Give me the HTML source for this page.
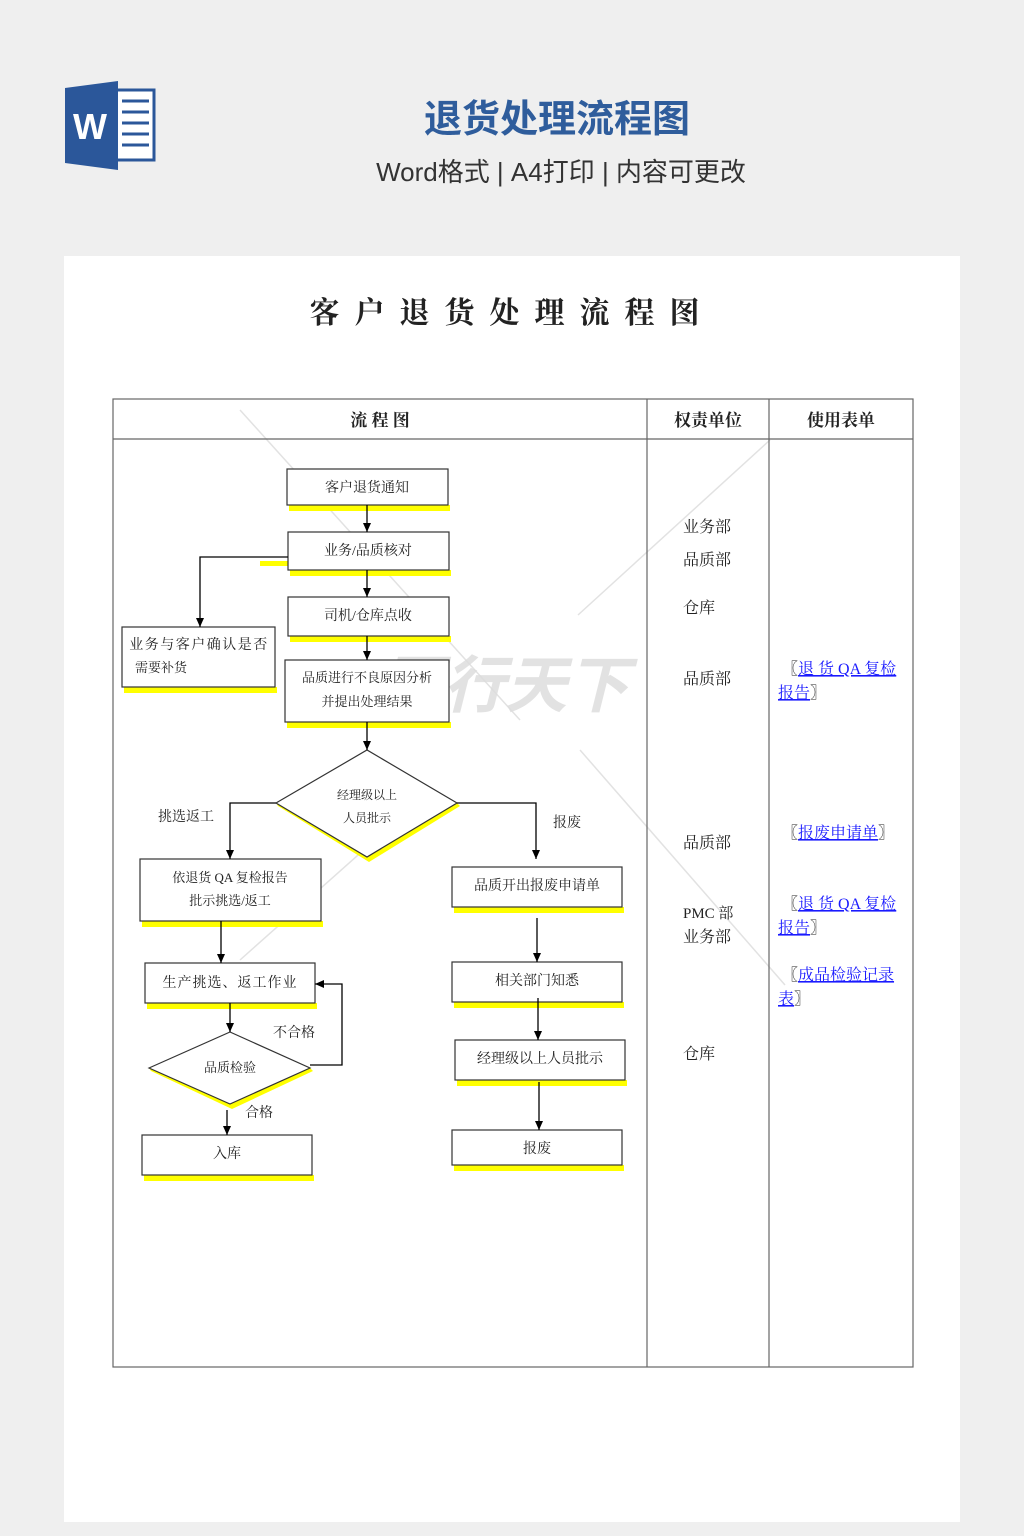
<!DOCTYPE html>
<html><head><meta charset="utf-8"><style>
html,body{margin:0;padding:0;background:#efefef;}
svg{display:block;}
.s{font-family:"Liberation Serif","Noto Serif CJK SC","Noto Sans CJK SC",serif;fill:#222;}
.h{font-family:"Liberation Sans","Noto Sans CJK SC",sans-serif;}
.lk{fill:#1a1aff;text-decoration:underline;}
</style></head><body>
<svg width="1024" height="1536" viewBox="0 0 1024 1536" xmlns="http://www.w3.org/2000/svg">
<defs><marker id="a" markerWidth="9" markerHeight="8" refX="9" refY="4" orient="auto" markerUnits="userSpaceOnUse"><path d="M0,0 L9,4 L0,8 z" fill="#000"/></marker></defs>
<rect width="1024" height="1536" fill="#efefef"/>
<!-- word icon -->
<rect x="112" y="90" width="42" height="70" fill="#fff" stroke="#2b579a" stroke-width="3"/>
<g stroke="#2b579a" stroke-width="3"><line x1="122" y1="101" x2="149" y2="101"/><line x1="122" y1="112" x2="149" y2="112"/><line x1="122" y1="123" x2="149" y2="123"/><line x1="122" y1="134" x2="149" y2="134"/><line x1="122" y1="145" x2="149" y2="145"/></g>
<path d="M65,88 L118,81 L118,170 L65,163 z" fill="#2b579a"/>
<text x="90" y="139" text-anchor="middle" class="h" font-size="36" font-weight="bold" fill="#fff">W</text>
<text x="557" y="132" text-anchor="middle" class="h" font-size="38" font-weight="bold" fill="#2f5d9c">退货处理流程图</text>
<text x="561" y="181" text-anchor="middle" class="h" font-size="26" fill="#333">Word格式 | A4打印 | 内容可更改</text>
<rect x="64" y="256" width="896" height="1266" fill="#fff"/>
<text x="512" y="323" text-anchor="middle" class="s" font-size="30" font-weight="bold" letter-spacing="15" fill="#111">客户退货处理流程图</text>
<!-- watermark -->
<g stroke="#e2e2e2" stroke-width="1.5"><line x1="240" y1="410" x2="520" y2="720"/><line x1="578" y1="615" x2="770" y2="440"/><line x1="580" y1="750" x2="785" y2="985"/><line x1="240" y1="960" x2="420" y2="800"/></g>
<text x="505" y="707" text-anchor="middle" class="h" font-size="62" font-style="italic" font-weight="bold" fill="#dcdcdc" opacity="0.8">图行天下</text>
<!-- table -->
<g fill="none" stroke="#666" stroke-width="1.2"><rect x="113" y="399" width="800" height="968"/><line x1="113" y1="439" x2="913" y2="439"/><line x1="647" y1="399" x2="647" y2="1367"/><line x1="769" y1="399" x2="769" y2="1367"/></g>
<g class="s" font-size="17" font-weight="bold" text-anchor="middle"><text x="380" y="426">流 程 图</text><text x="708" y="426">权责单位</text><text x="841" y="426">使用表单</text></g>
<!-- yellow shadows -->
<g fill="#ffff00">
<rect x="289" y="505" width="161" height="6"/><rect x="290" y="570" width="161" height="6"/><rect x="290" y="636" width="161" height="6"/>
<rect x="124" y="687" width="153" height="6"/><rect x="287" y="722" width="164" height="6"/>
<rect x="142" y="921" width="181" height="6"/><rect x="454" y="907" width="170" height="6"/>
<rect x="147" y="1003" width="170" height="6"/><rect x="454" y="1002" width="170" height="6"/>
<rect x="457" y="1080" width="170" height="6"/><rect x="144" y="1175" width="170" height="6"/><rect x="454" y="1165" width="170" height="6"/>
<path d="M278,806 L369,862 L460,806 L457,803 L367,857 L276,803 z"/>
<path d="M151,1071 L232,1109 L313,1071 L310,1068 L230,1104 L149,1068 z"/>
<rect x="260" y="561" width="28" height="5"/>
</g>
<!-- boxes -->
<g fill="#fff" stroke="#333" stroke-width="1.2">
<rect x="287" y="469" width="161" height="36"/><rect x="288" y="532" width="161" height="38"/><rect x="288" y="597" width="161" height="39"/>
<rect x="122" y="627" width="153" height="60"/><rect x="285" y="660" width="164" height="62"/>
<polygon points="276,803 367,750 457,803 367,857"/>
<rect x="140" y="859" width="181" height="62"/><rect x="452" y="867" width="170" height="40"/>
<rect x="145" y="963" width="170" height="40"/><rect x="452" y="962" width="170" height="40"/>
<polygon points="149,1068 230,1032 310,1068 230,1104"/>
<rect x="142" y="1135" width="170" height="40"/><rect x="455" y="1040" width="170" height="40"/><rect x="452" y="1130" width="170" height="35"/>
</g>
<!-- connectors -->
<g fill="none" stroke="#000" stroke-width="1.3">
<line x1="367" y1="505" x2="367" y2="532" marker-end="url(#a)"/>
<line x1="367" y1="570" x2="367" y2="597" marker-end="url(#a)"/>
<line x1="367" y1="636" x2="367" y2="660" marker-end="url(#a)"/>
<polyline points="288,557 200,557 200,627" marker-end="url(#a)"/>
<line x1="367" y1="722" x2="367" y2="750" marker-end="url(#a)"/>
<polyline points="276,803 230,803 230,859" marker-end="url(#a)"/>
<polyline points="457,803 536,803 536,859" marker-end="url(#a)"/>
<line x1="221" y1="921" x2="221" y2="963" marker-end="url(#a)"/>
<line x1="537" y1="918" x2="537" y2="962" marker-end="url(#a)"/>
<line x1="230" y1="1003" x2="230" y2="1032" marker-end="url(#a)"/>
<polyline points="310,1065 342,1065 342,984 315,984" marker-end="url(#a)"/>
<line x1="538" y1="998" x2="538" y2="1040" marker-end="url(#a)"/>
<line x1="539" y1="1082" x2="539" y2="1130" marker-end="url(#a)"/>
<line x1="227" y1="1110" x2="227" y2="1135" marker-end="url(#a)"/>
</g>
<!-- box texts -->
<g class="s" font-size="14" text-anchor="middle">
<text x="367" y="492">客户退货通知</text><text x="368" y="555">业务/品质核对</text><text x="368" y="620">司机/仓库点收</text>
<text x="199" y="649" letter-spacing="1.5">业务与客户确认是否</text><text x="161" y="672" font-size="13">需要补货</text>
<text x="367" y="682" font-size="13">品质进行不良原因分析</text><text x="367" y="706" font-size="13">并提出处理结果</text>
<text x="367" y="799" font-size="12">经理级以上</text><text x="367" y="822" font-size="12">人员批示</text>
<text x="186" y="821" font-size="14">挑选返工</text><text x="567" y="827" font-size="14">报废</text>
<text x="230" y="882" font-size="13">依退货 QA 复检报告</text><text x="230" y="905" font-size="13">批示挑选/返工</text>
<text x="537" y="890">品质开出报废申请单</text>
<text x="230" y="987" letter-spacing="1">生产挑选、返工作业</text><text x="537" y="985">相关部门知悉</text>
<text x="294" y="1037">不合格</text><text x="230" y="1072" font-size="13">品质检验</text><text x="259" y="1117">合格</text>
<text x="227" y="1158">入库</text><text x="540" y="1063">经理级以上人员批示</text><text x="537" y="1153">报废</text>
</g>
<!-- responsibility -->
<g class="s" font-size="16">
<text x="683" y="532">业务部</text><text x="683" y="565">品质部</text><text x="683" y="613">仓库</text><text x="683" y="684">品质部</text>
<text x="683" y="848">品质部</text><text x="683" y="918" font-size="15">PMC 部</text><text x="683" y="942">业务部</text><text x="683" y="1059">仓库</text>
</g>
<g class="s" font-size="16">
<text x="782" y="674">〖<tspan class="lk">退 货 QA 复检</tspan></text><text x="778" y="698"><tspan class="lk">报告</tspan>〗</text>
<text x="782" y="838">〖<tspan class="lk">报废申请单</tspan>〗</text>
<text x="782" y="909">〖<tspan class="lk">退 货 QA 复检</tspan></text><text x="778" y="933"><tspan class="lk">报告</tspan>〗</text>
<text x="782" y="980">〖<tspan class="lk">成品检验记录</tspan></text><text x="778" y="1004"><tspan class="lk">表</tspan>〗</text>
</g>
</svg>
</body></html>
